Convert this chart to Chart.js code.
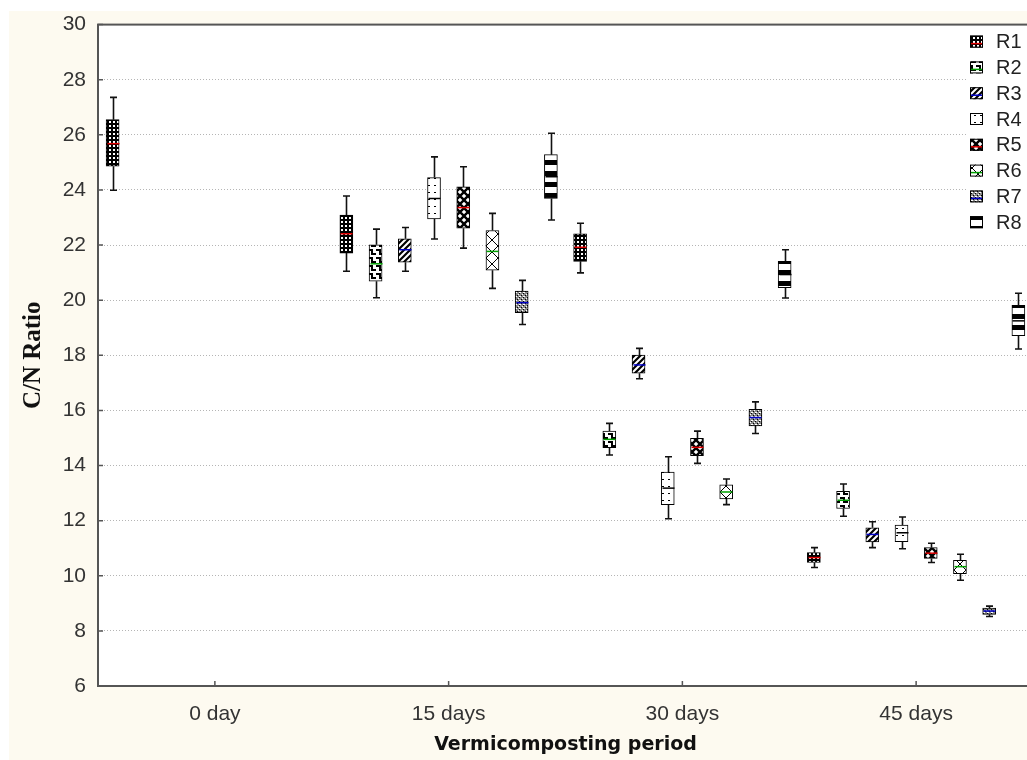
<!DOCTYPE html>
<html>
<head>
<meta charset="utf-8">
<script src="https://cdn.jsdelivr.net/npm/chart.js@4.4.0/dist/chart.umd.min.js"></script>
<style>
  html, body { margin: 0; padding: 0; overflow: hidden; background: #fff; }
  #wrap { width: 1033px; height: 760px; }
</style>
</head>
<body>
<div id="wrap"><canvas id="c" width="1033" height="760"></canvas></div>
<script>
const periods = ['0 day', '15 days', '30 days', '45 days'];
const series = ['R1', 'R2', 'R3', 'R4', 'R5', 'R6', 'R7', 'R8'];
const yTicks = [6, 8, 10, 12, 14, 16, 18, 20, 22, 24, 26, 28, 30];

// one row per reactor, one column per period (null = no box)
const lows = [
  [23.99, 21.05, 20.99, 10.30],
  [null, 20.09, 14.38, 12.16],
  [null, 21.05, 17.15, 11.02],
  [null, 22.22, 12.07, 10.98],
  [null, 21.89, 14.08, 10.48],
  [null, 20.43, 12.58, 9.84],
  [null, 19.12, 15.16, 8.52],
  [null, 22.91, 20.08, 18.23]
];
const q1s = [
  [24.86, 21.71, 21.41, 10.48],
  [null, 20.69, 14.65, 12.44],
  [null, 21.38, 17.35, 11.23],
  [null, 22.95, 12.58, 11.24],
  [null, 22.61, 14.36, 10.63],
  [null, 21.09, 12.79, 10.08],
  [null, 19.55, 15.44, 8.60],
  [null, 23.69, 20.45, 18.71]
];
const medians = [
  [25.68, 22.41, 21.92, 10.66],
  [null, 21.32, 14.95, 12.74],
  [null, 21.83, 17.65, 11.50],
  [null, 23.69, 13.18, 11.56],
  [null, 23.36, 14.66, 10.82],
  [null, 21.77, 13.04, 10.33],
  [null, 19.91, 15.74, 8.72],
  [null, 24.48, 20.93, 19.25]
];
const q3s = [
  [26.55, 23.09, 22.41, 10.84],
  [null, 22.01, 15.25, 13.06],
  [null, 22.23, 18.01, 11.74],
  [null, 24.45, 13.76, 11.84],
  [null, 24.11, 14.99, 11.02],
  [null, 22.53, 13.30, 10.56],
  [null, 20.33, 16.04, 8.83],
  [null, 25.28, 21.41, 19.81]
];
const highs = [
  [27.36, 23.78, 22.79, 11.02],
  [null, 22.58, 15.53, 13.33],
  [null, 22.64, 18.25, 11.96],
  [null, 25.20, 14.32, 12.13],
  [null, 24.84, 15.25, 11.18],
  [null, 23.15, 13.51, 10.78],
  [null, 20.72, 16.31, 8.90],
  [null, 26.06, 21.83, 20.25]
];
const medianColors = ['#e00000', '#00a000', '#0000c8', '#000000', '#e00000', '#00a000', '#0000c8', '#000000'];

const slotOf = (p, s) => 8 * p + s;

function makePattern(w, h, draw) {
  const c = document.createElement('canvas');
  c.width = w; c.height = h;
  const g = c.getContext('2d');
  g.fillStyle = '#fff';
  g.fillRect(0, 0, w, h);
  g.fillStyle = '#000';
  g.strokeStyle = '#000';
  draw(g, w, h);
  return document.getElementById('c').getContext('2d').createPattern(c, 'repeat');
}

const patterns = [
  makePattern(4, 4, g => { g.fillRect(0, 0, 4, 4); g.fillStyle = '#fff'; g.fillRect(1, 1, 2, 2); }),
  makePattern(8, 8, g => { g.fillRect(0, 1, 5, 2); g.fillRect(3, 1, 2, 6); g.fillRect(3, 5, 5, 2); }),
  makePattern(6, 6, g => {
    g.lineWidth = 2.2;
    g.beginPath();
    g.moveTo(-1, 7); g.lineTo(7, -1);
    g.moveTo(-4, 4); g.lineTo(4, -4);
    g.moveTo(2, 10); g.lineTo(10, 2);
    g.stroke();
  }),
  makePattern(6, 7, g => { g.fillRect(2, 3, 2, 1); }),
  makePattern(8, 8, g => {
    g.lineWidth = 2.4;
    g.beginPath();
    g.moveTo(0, 0); g.lineTo(8, 8);
    g.moveTo(8, 0); g.lineTo(0, 8);
    g.stroke();
  }),
  makePattern(12, 12, g => {
    g.lineWidth = 1;
    g.beginPath();
    g.moveTo(0, 0); g.lineTo(12, 12);
    g.moveTo(12, 0); g.lineTo(0, 12);
    g.stroke();
  }),
  makePattern(4, 4, g => {
    g.fillStyle = '#8a8a8a'; g.fillRect(0, 0, 4, 4);
    g.fillStyle = '#fff'; g.fillRect(0, 0, 1, 1); g.fillRect(2, 2, 1, 1); g.fillRect(3, 0, 1, 1);
    g.fillStyle = '#000'; g.fillRect(1, 3, 1, 1); g.fillRect(3, 1, 1, 1);
  }),
  makePattern(10, 11, g => { g.fillRect(0, 6, 10, 5); })
];

const datasets = series.map((name, s) => ({
  label: name,
  data: periods.map((_, p) => q1s[s][p] == null ? null : { x: slotOf(p, s), y: [q1s[s][p], q3s[s][p]] }).filter(Boolean),
  backgroundColor: patterns[s],
  borderColor: '#000',
  borderWidth: 1,
  borderSkipped: false,
  barThickness: 13,
  grouped: false
}));

const boxPlugin = {
  id: 'boxes',
  beforeDraw(chart) {
    const { ctx, chartArea: a } = chart;
    ctx.save();
    ctx.fillStyle = '#fff';
    ctx.fillRect(0, 0, chart.width, chart.height);
    ctx.fillStyle = '#fdfaf0';
    ctx.fillRect(9, 11, chart.width, chart.height);
    ctx.fillStyle = '#fff';
    ctx.fillRect(a.left, a.top, a.right - a.left, a.bottom - a.top);
    ctx.restore();
  },
  afterDatasetsDraw(chart) {
    const { ctx, chartArea: a } = chart;
    const xs = chart.scales.x, ys = chart.scales.y;
    ctx.save();
    series.forEach((_, s) => {
      periods.forEach((_, p) => {
        if (q1s[s][p] == null) return;
        const x = Math.round(xs.getPixelForValue(slotOf(p, s))) + 0.5;
        const yLo = ys.getPixelForValue(lows[s][p]);
        const yQ1 = ys.getPixelForValue(q1s[s][p]);
        const yQ3 = ys.getPixelForValue(q3s[s][p]);
        const yHi = ys.getPixelForValue(highs[s][p]);
        const yMed = ys.getPixelForValue(medians[s][p]);
        ctx.strokeStyle = '#111';
        ctx.lineWidth = 1.6;
        ctx.beginPath();
        ctx.moveTo(x, yHi); ctx.lineTo(x, yQ3);
        ctx.moveTo(x, yQ1); ctx.lineTo(x, yLo);
        ctx.moveTo(x - 3.5, yHi); ctx.lineTo(x + 3.5, yHi);
        ctx.moveTo(x - 3.5, yLo); ctx.lineTo(x + 3.5, yLo);
        ctx.stroke();
        ctx.strokeStyle = medianColors[s];
        ctx.lineWidth = 1.5;
        ctx.beginPath();
        ctx.moveTo(x - 6, yMed); ctx.lineTo(x + 6, yMed);
        ctx.stroke();
      });
    });
    // inner tick marks
    ctx.strokeStyle = '#555';
    ctx.lineWidth = 1.5;
    ctx.beginPath();
    yTicks.forEach(v => {
      const y = ys.getPixelForValue(v);
      ctx.moveTo(a.left, y); ctx.lineTo(a.left + 5, y);
    });
    periods.forEach((_, p) => {
      const x = xs.getPixelForValue(8 * p + 3.5);
      ctx.moveTo(x, a.bottom); ctx.lineTo(x, a.bottom - 5);
    });
    ctx.stroke();
    // frame
    ctx.strokeStyle = '#555';
    ctx.lineWidth = 2;
    ctx.strokeRect(a.left, a.top, a.right - a.left, a.bottom - a.top);
    ctx.restore();
  },
  afterDraw(chart) {
    const { ctx, chartArea: a } = chart;
    const left = a.right - 63;
    ctx.save();
    ctx.fillStyle = '#fff';
    ctx.fillRect(left - 3, a.top + 6, 60, 208);
    series.forEach((name, s) => {
      const top = a.top + 11 + s * 25.8;
      ctx.fillStyle = patterns[s];
      ctx.fillRect(left, top, 13, 12);
      ctx.strokeStyle = '#000';
      ctx.lineWidth = 1;
      ctx.strokeRect(left + 0.5, top + 0.5, 12, 11);
      if (medianColors[s] !== '#000000') {
        ctx.strokeStyle = medianColors[s];
        ctx.lineWidth = 1.5;
        ctx.beginPath();
        ctx.moveTo(left + 1, top + 8); ctx.lineTo(left + 12, top + 8);
        ctx.stroke();
      }
      ctx.fillStyle = '#222';
      ctx.font = '20px "Liberation Sans"';
      ctx.textBaseline = 'middle';
      ctx.textAlign = 'left';
      ctx.fillText(name, left + 26, top + 7);
    });
    ctx.restore();
  }
};

new Chart(document.getElementById('c'), {
  type: 'bar',
  data: { datasets },
  plugins: [boxPlugin],
  options: {
    responsive: false,
    animation: false,
    layout: { padding: { top: 20, left: 0, right: 0, bottom: 0 } },
    plugins: { legend: { display: false }, tooltip: { enabled: false } },
    scales: {
      x: {
        type: 'linear',
        offset: false,
        min: -0.5,
        max: 31.5,
        afterFit: s => { s.height = 74; },
        afterBuildTicks: s => { s.ticks = periods.map((_, p) => ({ value: 8 * p + 3.5 })); },
        ticks: {
          callback: v => periods[Math.round((v - 3.5) / 8)],
          font: { family: 'Liberation Sans', size: 21 },
          color: '#333',
          padding: 8,
          maxRotation: 0,
          autoSkip: false
        },
        grid: { display: false },
        border: { display: false },
        title: {
          display: true,
          text: 'Vermicomposting period',
          font: { family: 'DejaVu Sans', size: 19, weight: 'bold' },
          color: '#111',
          padding: { top: 0, bottom: 4 }
        }
      },
      y: {
        min: 6,
        max: 30,
        afterFit: s => { s.width = 98; },
        afterBuildTicks: s => { s.ticks = yTicks.map(v => ({ value: v })); },
        ticks: {
          font: { family: 'Liberation Sans', size: 21 },
          color: '#333',
          padding: 12
        },
        grid: { color: '#b5b5b5', drawTicks: false, lineWidth: 1 },
        border: { display: false, dash: [1, 2] },
        title: {
          display: true,
          text: 'C/N Ratio',
          font: { family: 'Liberation Serif', size: 25, weight: 'bold' },
          color: '#111',
          padding: { top: 19, bottom: 0 }
        }
      }
    }
  }
});
</script>
</body>
</html>
